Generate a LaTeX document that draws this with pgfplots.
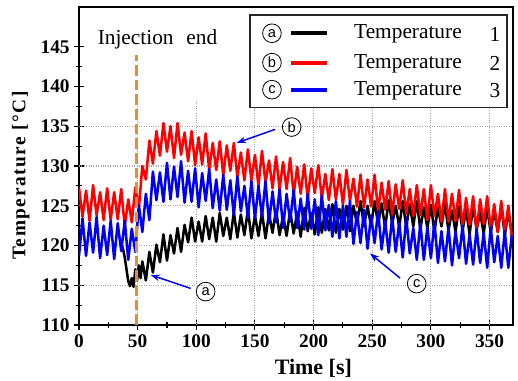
\documentclass[border=0pt]{standalone}
\usepackage{fontspec}
\setmainfont{Liberation Serif}
\setsansfont{Liberation Sans}
\newfontfamily\ylabfont{Liberation Serif}[LetterSpace=8]
\newfontfamily\tickfont{Liberation Serif}
\usepackage{pgfplots}
\pgfplotsset{compat=1.18}
\usetikzlibrary{arrows.meta}
\definecolor{cred}{RGB}{255,0,0}
\definecolor{cblue}{RGB}{0,0,245}
\definecolor{corange}{RGB}{235,140,50}
\newcommand{\tl}[1]{\textbf{\tickfont\fontsize{14.5}{15}\selectfont\bfseries #1}}
\tikzset{
 circ/.style={circle, draw, line width=0.6pt, inner sep=0pt, minimum size=14pt, font=\sffamily\fontsize{11}{11}\selectfont},
 lab/.style={font=\fontsize{16}{16}\selectfont, inner sep=0pt},
 gridl/.style={gray!70, line width=0.8pt, densely dotted},
 sig/.style={line width=1.9pt, line join=round},
}
\begin{document}
\begin{tikzpicture}
\useasboundingbox (-59.25pt,-42pt) rectangle (329.25pt,243.75pt);
\begin{axis}[
 scale only axis, width=325.5pt, height=238.5pt,
 xmin=0, xmax=370, ymin=110, ymax=150,
 xtick={0,50,...,350}, ytick={110,115,...,145},
 xticklabels={\tl{0},\tl{50},\tl{100},\tl{150},\tl{200},\tl{250},\tl{300},\tl{350}},
 yticklabels={\tl{110},\tl{115},\tl{120},\tl{125},\tl{130},\tl{135},\tl{140},\tl{145}},
 minor x tick num=1, minor y tick num=1,
 tick pos=left, tick align=center,
 major tick length=7pt, minor tick length=5pt,
 tick style={black, line width=0.8pt},
 axis line style={line width=1pt},
 xlabel={Time [s]}, ylabel={Temperature [°C]},
 xlabel style={font=\bfseries\fontsize{16.5}{17}\selectfont, at={(axis description cs:0.54,-0.135)}, anchor=center},
 ylabel style={font=\ylabfont\bfseries\fontsize{14.5}{15}\selectfont, at={(axis description cs:-0.134,0.47)}, anchor=center},
]
\pgfplotsinvokeforeach{115,120,125,130,135}{\draw[gridl] (axis cs:0,#1) -- (axis cs:370,#1);}
\pgfplotsinvokeforeach{50,100,150,200,250,300,350}{\draw[gridl] (axis cs:#1,110) -- (axis cs:#1,138.3);}

\addplot[sig, black] coordinates {(36,120.3)(37.5,119.6)(39,118.5)(40.5,117.0)(42,115.5)(43.5,114.9)(45,115.9)(46.5,114.8)(48,117.0)(49.5,115.6)(51,117.5)(52.5,115.9)
(54,118.0)(57,115.6)(60,119.2)(63,116.6)(66,120.1)(69,117.9)(72,121.4)(75,118.1)(78,121.3)(81,119.0)(84,122.2)(87,119.2)(90,122.6)(93,120.4)(96,123.5)(99,120.5)(102,123.0)(105,120.5)(108,123.7)(111,120.8)(114,123.5)(117,120.5)(120,124.1)(123,121.2)(126,123.5)(129,120.8)(132,124.2)(135,121.0)(138,123.9)(141,121.3)(144,124.5)(147,120.9)(150,123.8)(153,121.2)(156,124.2)(159,120.9)(162,124.0)(165,121.6)(168,124.5)(171,121.3)(174,123.8)(177,121.2)(180,124.4)(183,121.5)(186,124.2)(189,121.1)(192,124.7)(195,121.8)(198,124.1)(201,121.4)(204,124.8)(207,121.6)(210,124.6)(213,121.9)(216,125.2)(219,121.6)(222,124.6)(225,122.0)(228,125.0)(231,121.8)(234,125.0)(237,122.7)(240,125.6)(243,122.4)(246,125.0)(249,122.4)(252,125.6)(255,122.6)(258,125.3)(261,122.2)(264,125.7)(267,122.7)(270,125.0)(273,122.3)(276,125.6)(279,122.3)(282,125.2)(285,122.4)(288,125.6)(291,122.0)(294,124.8)(297,122.2)(300,125.1)(303,121.7)(306,124.8)(309,122.4)(312,125.2)(315,121.9)(318,124.4)(321,121.7)(324,124.9)(327,121.9)(330,124.5)(333,121.4)(336,125.0)(339,122.0)(342,124.2)(345,121.5)(348,124.8)(351,121.6)(354,124.4)(357,121.7)(360,124.9)(363,121.3)(366,124.2)(369,121.6)};

\addplot[sig, cred] coordinates {(0,127.3)(3,123.6)(6,126.9)(9,123.1)(12,127.6)(15,123.8)(18,126.7)(21,123.2)(24,127.2)(27,123.2)(30,126.7)(33,123.3)(36,127.1)(39,122.4)(42,125.8)(45,122.9)(48,127.3)(51,124.6)(54,130.0)(57,128.3)(60,133.2)(63,130.3)(66,134.4)(69,131.3)(72,135.4)(75,131.8)(78,135.0)(81,131.0)(84,135.4)(87,131.4)(90,134.2)(93,130.6)(96,134.4)(99,130.1)(102,133.6)(105,130.2)(108,134.1)(111,129.5)(114,132.9)(117,129.5)(120,133.1)(123,128.8)(126,132.6)(129,129.4)(132,132.9)(135,128.6)(138,131.7)(141,128.2)(144,132.1)(147,128.2)(150,131.4)(153,127.5)(156,131.9)(159,127.9)(162,130.7)(165,127.2)(168,131.2)(171,127.1)(174,130.5)(177,127.1)(180,131.0)(183,126.4)(186,129.9)(189,126.5)(192,130.2)(195,125.9)(198,129.7)(201,126.6)(204,130.1)(207,125.9)(210,129.0)(213,125.7)(216,129.6)(219,125.8)(222,129.0)(225,125.1)(228,129.5)(231,125.6)(234,128.4)(237,124.9)(240,128.9)(243,124.8)(246,128.3)(249,124.9)(252,128.9)(255,124.3)(258,127.9)(261,124.5)(264,128.1)(267,123.9)(270,127.7)(273,124.6)(276,128.2)(279,124.0)(282,127.1)(285,123.7)(288,127.6)(291,123.8)(294,127.1)(297,123.2)(300,127.6)(303,123.7)(306,126.5)(309,123.0)(312,127.1)(315,123.0)(318,126.5)(321,123.1)(324,127.0)(327,122.4)(330,126.0)(333,122.6)(336,126.2)(339,121.9)(342,125.8)(345,122.7)(348,126.2)(351,122.1)(354,125.2)(357,121.7)(360,125.6)(363,121.8)(366,125.0)(369,121.0)};

\addplot[sig, cblue] coordinates {(0,118.7)(3,123.4)(6,118.7)(9,122.9)(12,119.1)(15,123.6)(18,118.4)(21,122.5)(24,118.8)(27,123.1)(30,118.3)(33,122.8)(36,119.3)(39,123.1)(42,118.2)(45,122.1)(48,119.2)(51,125.1)(54,121.7)(57,126.5)(60,123.2)(63,129.3)(66,125.7)(69,129.2)(72,125.5)(75,130.4)(78,125.8)(81,129.9)(84,126.1)(87,130.6)(90,125.4)(93,129.4)(96,125.5)(99,129.7)(102,124.8)(105,129.1)(108,125.6)(111,129.6)(114,124.7)(117,128.3)(120,124.4)(123,128.9)(126,124.5)(129,128.2)(132,123.8)(135,128.7)(138,124.3)(141,127.5)(144,123.5)(147,128.1)(150,123.4)(153,127.5)(156,123.6)(159,128.1)(162,122.8)(165,126.8)(168,122.9)(171,127.1)(174,122.2)(177,126.5)(180,123.0)(183,127.0)(186,122.2)(189,125.9)(192,122.0)(195,126.5)(198,122.1)(201,125.8)(204,121.3)(207,126.3)(210,121.9)(213,125.1)(216,121.1)(219,125.6)(222,120.9)(225,125.0)(228,121.1)(231,125.6)(234,120.2)(237,124.2)(240,120.3)(243,124.5)(246,119.6)(249,123.8)(252,120.3)(255,124.3)(258,119.5)(261,123.1)(264,119.1)(267,123.6)(270,119.2)(273,122.9)(276,118.5)(279,123.5)(282,119.0)(285,122.2)(288,118.2)(291,122.8)(294,118.2)(297,122.3)(300,118.4)(303,123.0)(306,117.8)(309,121.8)(312,118.0)(315,122.3)(318,117.5)(321,121.8)(324,118.4)(327,122.5)(330,117.7)(333,121.4)(336,117.6)(339,122.1)(342,117.8)(345,121.6)(348,117.2)(351,122.3)(354,117.9)(357,121.2)(360,117.2)(363,121.8)(366,117.2)(369,121.3)};

\addplot[corange, line width=2pt, dash pattern=on 8pt off 3pt] coordinates {(49.3,110) (49.3,144)};

\node[lab] at (axis cs:66.9,145.9) {Injection\hspace{0.6em}end};

% annotations
\node[circ] at (axis cs:181.3,134.9) {b};
\draw[cblue, line width=1.1pt, -{Stealth[length=7pt,width=5pt]}] (axis cs:167,134.6) -- (axis cs:134.4,132.9);
\node[circ] at (axis cs:108.0,114.2) {a};
\draw[cblue, line width=1.1pt, -{Stealth[length=7pt,width=5pt]}] (axis cs:95.2,114.6) -- (axis cs:61.1,116.3);
\node[circ] at (axis cs:287.9,115.2) {c};
\draw[cblue, line width=1.1pt, -{Stealth[length=7pt,width=5pt]}] (axis cs:273.7,115.9) -- (axis cs:248.1,119.0);

% legend
\draw[line width=0.9pt, fill=white, draw=black!85] (axis cs:145.8,137.4) rectangle (axis cs:364.9,149.0);
\node[circ] at (axis cs:164.5,146.7) {a};
\draw[black, line width=3pt] (axis cs:180.7,146.7) -- (axis cs:211.4,146.7);
\node[lab, anchor=west] at (axis cs:234.4,146.6) {Temperature};
\node[lab] at (axis cs:354.6,146.6) {1};
\node[circ] at (axis cs:164.5,143.0) {b};
\draw[cred, line width=3pt] (axis cs:180.7,143.0) -- (axis cs:211.4,143.0);
\node[lab, anchor=west] at (axis cs:234.4,142.9) {Temperature};
\node[lab] at (axis cs:354.6,142.9) {2};
\node[circ] at (axis cs:164.5,139.6) {c};
\draw[cblue, line width=3pt] (axis cs:180.7,139.6) -- (axis cs:211.4,139.6);
\node[lab, anchor=west] at (axis cs:234.4,139.5) {Temperature};
\node[lab] at (axis cs:354.6,139.5) {3};
\end{axis}
\end{tikzpicture}
\end{document}
